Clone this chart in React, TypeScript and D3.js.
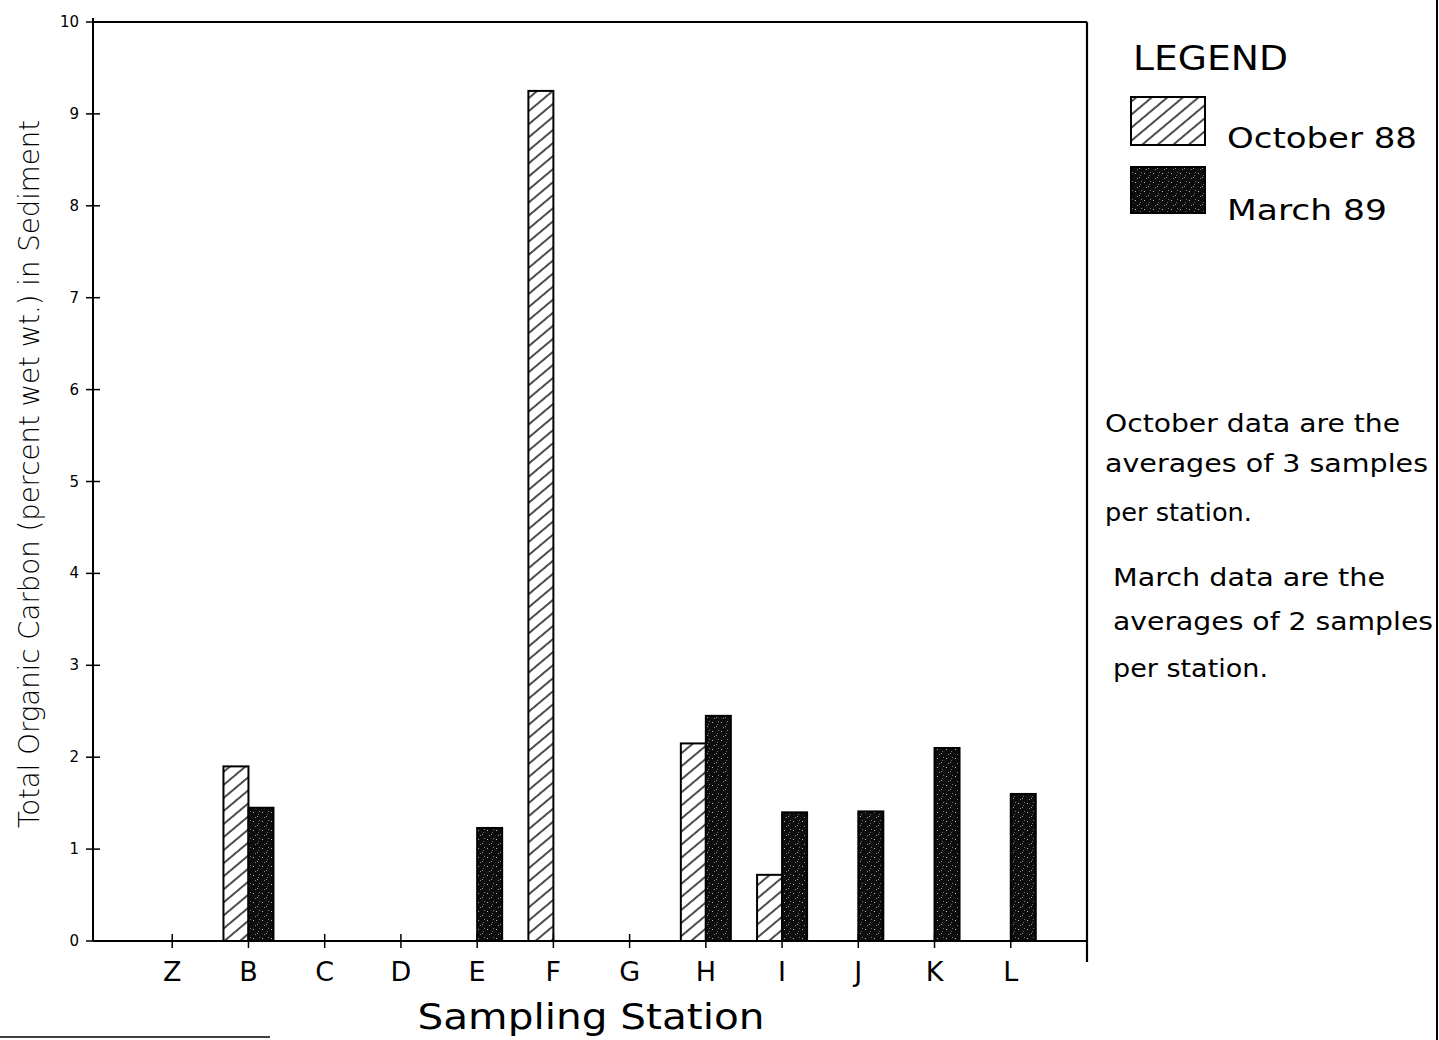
import React from "react";
import * as d3 from "d3";

// Sampling stations along the transect
const stations = ["Z", "B", "C", "D", "E", "F", "G", "H", "I", "J", "K", "L"];

// Total organic carbon, percent wet weight (null = not sampled)
const october88: (number | null)[] = [null, 1.9, null, null, null, 9.25, null, 2.15, 0.72, null, null, null];
const march89: (number | null)[] = [null, 1.45, null, null, 1.23, null, null, 2.45, 1.4, 1.41, 2.1, 1.6];

const yTicks = [0, 1, 2, 3, 4, 5, 6, 7, 8, 9, 10];

const noteLines = [
  { text: "October data are the", x: 1105, y: 432, len: 295 },
  { text: "averages of 3 samples", x: 1105, y: 472, len: 323 },
  { text: "per station.", x: 1105, y: 521, len: 147 },
  { text: "March data are the", x: 1113, y: 586, len: 272 },
  { text: "averages of 2 samples", x: 1113, y: 630, len: 320 },
  { text: "per station.", x: 1113, y: 677, len: 155 },
];

const FONT = "'DejaVu Sans', 'Liberation Sans', sans-serif";

export default function App() {
  const left = 93;
  const right = 1087;
  const top = 22;
  const base = 941;

  const x = d3.scalePoint<string>().domain(stations).range([96, 1087]).padding(1);
  const y = d3.scaleLinear().domain([0, 10]).range([base, top]);
  const barW = 25;

  const bars: { key: string; x: number; v: number; kind: "oct" | "mar" }[] = [];
  stations.forEach((s, i) => {
    const cx = x(s) as number;
    const o = october88[i];
    const m = march89[i];
    if (o != null) bars.push({ key: `o-${s}`, x: cx - barW, v: o, kind: "oct" });
    if (m != null) bars.push({ key: `m-${s}`, x: cx, v: m, kind: "mar" });
  });

  return (
    <svg
      width={1439}
      height={1040}
      style={{ position: "absolute", left: 0, top: 0, background: "#fff" }}
      fontFamily={FONT}
    >
      <defs>
        <pattern
          id="hatch"
          patternUnits="userSpaceOnUse"
          width={10}
          height={10}
          patternTransform="rotate(-40)"
        >
          <rect width={10} height={10} fill="#fff" />
          <line x1={0} y1={5} x2={10} y2={5} stroke="#000" strokeWidth={1.4} />
        </pattern>
        <pattern id="stipple" patternUnits="userSpaceOnUse" width={9} height={9}>
          <rect width={9} height={9} fill="#0d0d0d" />
          <rect x={1} y={2} width={1} height={1} fill="#bbb" />
          <rect x={5} y={6} width={1} height={1} fill="#999" />
          <rect x={7} y={1} width={1} height={1} fill="#777" />
          <rect x={3} y={7} width={1} height={1} fill="#888" />
          <rect x={6} y={4} width={1} height={1} fill="#666" />
        </pattern>
      </defs>

      {/* frame */}
      <line x1={left} y1={top} x2={right} y2={top} stroke="#000" strokeWidth={2} />
      <line x1={right} y1={top} x2={right} y2={962} stroke="#000" strokeWidth={2.2} />
      <line x1={left} y1={top - 4} x2={left} y2={base} stroke="#000" strokeWidth={2} />
      <line x1={left} y1={base} x2={right} y2={base} stroke="#000" strokeWidth={2} />

      {/* y ticks */}
      {yTicks.map((t) => (
        <g key={t}>
          <line x1={left - 7} x2={left + 7} y1={y(t)} y2={y(t)} stroke="#000" strokeWidth={1.5} />
          <text x={79} y={y(t) + 5} textAnchor="end" fontSize={15}>
            {t}
          </text>
        </g>
      ))}

      {/* bars */}
      {bars.map((b) => (
        <rect
          key={b.key}
          x={b.x}
          y={y(b.v)}
          width={barW}
          height={base - y(b.v)}
          fill={b.kind === "oct" ? "url(#hatch)" : "url(#stipple)"}
          stroke="#000"
          strokeWidth={2}
        />
      ))}

      {/* x ticks and labels */}
      {stations.map((s) => (
        <g key={s}>
          <line x1={x(s)} x2={x(s)} y1={base - 7} y2={base + 7} stroke="#000" strokeWidth={1.5} />
          <text x={x(s)} y={981} textAnchor="middle" fontSize={27}>
            {s}
          </text>
        </g>
      ))}

      <text x={591} y={1029} textAnchor="middle" fontSize={36} textLength={347} lengthAdjust="spacingAndGlyphs">
        Sampling Station
      </text>

      <text
        transform="translate(39,474) rotate(-90)"
        textAnchor="middle"
        fontSize={29}
        fontWeight={300}
        textLength={708}
        lengthAdjust="spacingAndGlyphs"
      >
        Total Organic Carbon (percent wet wt.) in Sediment
      </text>

      {/* legend */}
      <text x={1133} y={70} fontSize={33} textLength={155} lengthAdjust="spacingAndGlyphs">
        LEGEND
      </text>
      <rect x={1131} y={97} width={74} height={48} fill="url(#hatch)" stroke="#000" strokeWidth={2} />
      <text x={1227} y={148} fontSize={29} textLength={190} lengthAdjust="spacingAndGlyphs">
        October 88
      </text>
      <rect x={1131} y={167} width={74} height={46} fill="url(#stipple)" stroke="#000" strokeWidth={2} />
      <text x={1227} y={220} fontSize={29} textLength={160} lengthAdjust="spacingAndGlyphs">
        March 89
      </text>

      {noteLines.map((n, i) => (
        <text key={i} x={n.x} y={n.y} fontSize={24} textLength={n.len} lengthAdjust="spacingAndGlyphs">
          {n.text}
        </text>
      ))}

      {/* page edges */}
      <line x1={1437} y1={0} x2={1437} y2={1040} stroke="#000" strokeWidth={2} />
      <line x1={0} y1={1037} x2={270} y2={1037} stroke="#000" strokeWidth={1.5} />
    </svg>
  );
}
